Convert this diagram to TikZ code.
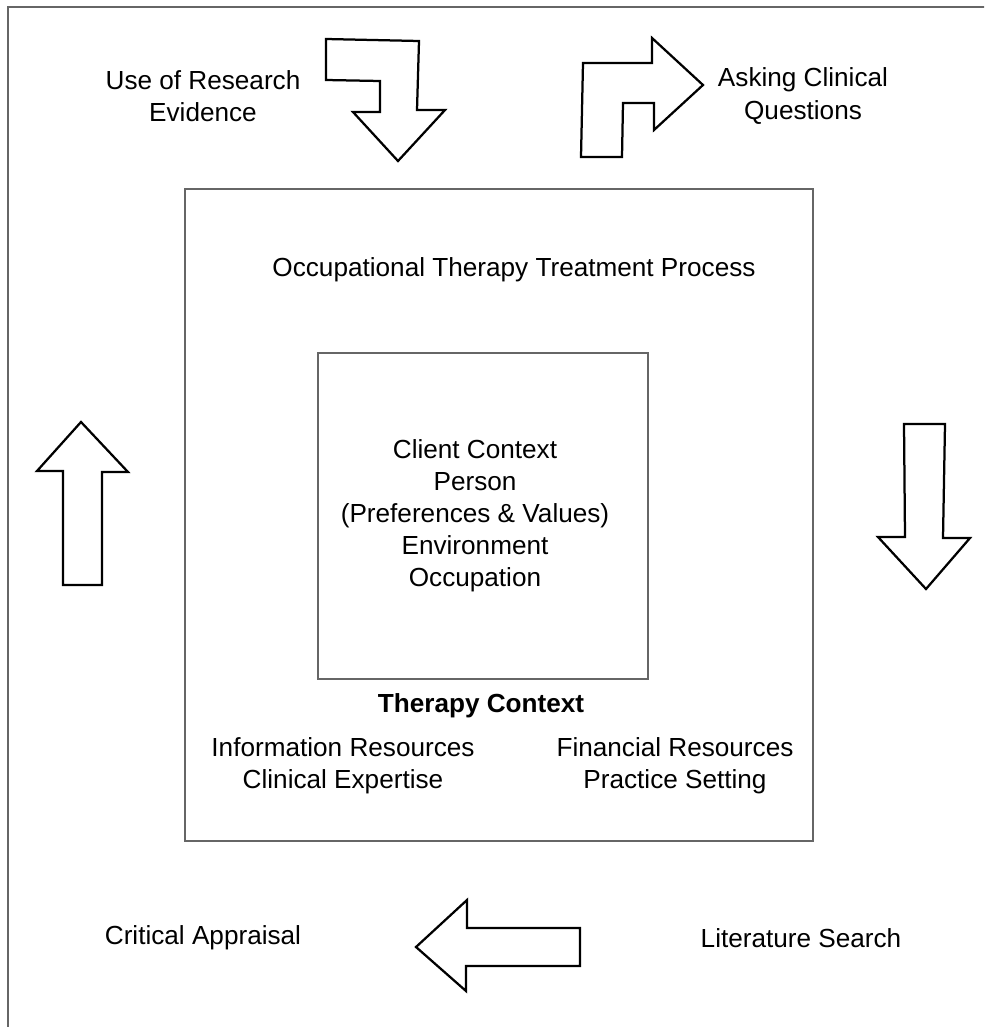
\documentclass[tikz,border=0pt]{standalone}
\usepackage{fontspec}
\setmainfont{Liberation Sans}
\usepackage{tikz}

\tikzset{
  frame/.style={draw=black!60, line width=1.5pt},
  box/.style={draw=black!60, line width=0.9pt},
  blockarrow/.style={draw=black, line width=1.6pt, line join=miter, fill=white},
  txt/.style={font=\fontsize{18.6}{22.8}\selectfont, align=center, inner sep=0pt}
}

\begin{document}
\begin{tikzpicture}[x=0.25mm, y=-0.25mm]
                \useasboundingbox (0,0) rectangle (984,1027);
                \clip (0,0) rectangle (984,1027);

                % Frames
                \draw[frame] (8,7) rectangle (1000,1040);
                \draw[box] (185,189) rectangle (813,841);
                \draw[box] (318,353) rectangle (648,679);

                % Outer labels
                \node[txt] (research) at (203,96) {Use of Research\\Evidence};
                \node[txt] (asking) at (803,96) {Asking Clinical\\Questions};
                \node[txt] (appraisal) at (203,938) {Critical Appraisal};
                \node[txt] (search) at (801,938) {Literature Search};

                % Treatment process
                \node[txt] (process) at (514,270) {Occupational Therapy Treatment Process};
                \node[txt] (client) at (475,516) {Client Context\\Person\\(Preferences \& Values)\\Environment\\Occupation};

                % Therapy context
                \node[txt, font=\fontsize{18.6}{22.8}\selectfont\bfseries] (therapy) at (481,706) {Therapy Context};
                \node[txt] (info) at (343,766) {Information Resources\\Clinical Expertise};
                \node[txt] (finance) at (675,766) {Financial Resources\\Practice Setting};

                % Arrows
                \draw[blockarrow] (326,39) -- (419,41) -- (417,110) -- (445,110) -- (398,161)
                    -- (353,112) -- (380,112) -- (380,81) -- (326,80) -- cycle;
                \draw[blockarrow] (581,157) -- (583,63) -- (652,63) -- (652,38) -- (703,85)
                    -- (654,130) -- (654,103) -- (623,103) -- (622,157) -- cycle;
                \draw[blockarrow] (81,422) -- (128,472) -- (102,472) -- (102,585)
                    -- (63,585) -- (63,471) -- (37,471) -- cycle;
                \draw[blockarrow] (904,424) -- (945,424) -- (943,538) -- (970,538)
                    -- (926,589) -- (878,537) -- (905,537) -- cycle;
                \draw[blockarrow] (416,947) -- (467,900) -- (467,928) -- (580,928)
                    -- (580,966) -- (466,966) -- (466,991) -- cycle;
            \end{tikzpicture}
\end{document}
